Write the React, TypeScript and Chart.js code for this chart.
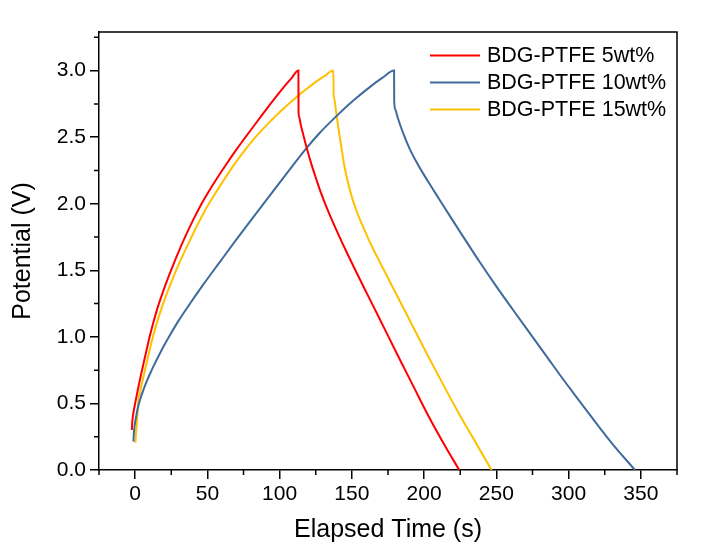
import React, { useEffect, useRef } from "react";
import { Chart, registerables } from "chart.js";

Chart.register(...registerables);

// ---------- data ----------
const seriesLabels = ["BDG-PTFE 5wt%", "BDG-PTFE 10wt%", "BDG-PTFE 15wt%"];
const seriesColors = ["#FF0000", "#3F6B9C", "#FFC000"];

const time5 = [
  -2.28, -2.05, -1.7, -1.18, 0, 1.18, 2.3, 3.46, 5.5, 8, 10.3, 12.66, 16, 19.5, 23, 26.5, 30.5, 35, 40, 44.96, 50, 56, 63,
  70.3, 76, 82, 87.5, 93.4, 98, 103, 108, 113,
  113.1, 113.6, 114.5, 116.4, 119, 122.2, 125.5, 129, 134.9, 140, 146, 152, 157.9, 169, 181, 192.5, 204, 214, 224.3,
];
const volt5 = [
  0.3, 0.35, 0.39, 0.43, 0.5, 0.565, 0.625, 0.685, 0.785, 0.905, 1.012, 1.11, 1.235, 1.345, 1.448, 1.545, 1.65, 1.76, 1.875,
  1.98, 2.075, 2.18, 2.295, 2.41, 2.495, 2.582, 2.662, 2.746, 2.81, 2.878, 2.94, 3.0,
  2.69, 2.65, 2.6, 2.517, 2.41, 2.29, 2.18, 2.07, 1.91, 1.785, 1.645, 1.51, 1.38, 1.14, 0.877, 0.63, 0.385, 0.19, 0.0,
];

const time10 = [
  -1.18, -0.9, -0.5, 0, 1.18, 2.3, 3.46, 5.5, 8, 10.4, 12.66, 16.5, 20.5, 25, 30, 35.8, 47, 58.8, 70, 81.8, 95, 107.2, 117.6,
  128, 139.5, 151, 162.6, 171, 179.2,
  179.3, 180, 181.5, 183.3, 185.5, 187.9, 191, 194.9, 200, 205, 211, 218, 226, 238.6, 250.2, 261.7, 273, 285, 296.3, 303.2,
  315, 330, 345.9,
];
const volt10 = [
  0.213, 0.27, 0.32, 0.36, 0.43, 0.485, 0.53, 0.595, 0.665, 0.725, 0.778, 0.862, 0.945, 1.03, 1.12, 1.215, 1.39, 1.565, 1.73,
  1.9, 2.088, 2.26, 2.405, 2.535, 2.66, 2.775, 2.878, 2.945, 3.0,
  2.775, 2.71, 2.655, 2.595, 2.53, 2.465, 2.39, 2.31, 2.215, 2.128, 2.025, 1.905, 1.77, 1.56, 1.375, 1.2, 1.03, 0.85, 0.68,
  0.58, 0.41, 0.2, 0.0,
];

const time15 = [
  0.2, 0.5, 0.85, 1.18, 1.7, 2.28, 3.4, 5.0, 7.2, 9.8, 12.2, 14.6, 18.0, 21.6, 25.2, 28.8, 32.9, 37.5, 42.8, 48.4, 53.8, 60,
  67.8, 76.1, 83, 89.5, 93.4, 97.5, 102, 107, 112.95, 119, 126, 131.5, 137.2,
  137.4, 137.7, 139.1, 140.7, 142.6, 144.7, 147.4, 150.2, 153.0, 155.7, 159.9, 164.7, 169.6, 178.8, 190, 201.8, 213, 224.8,
  236, 246.7,
];
const volt15 = [
  0.205, 0.27, 0.31, 0.35, 0.44, 0.526, 0.585, 0.665, 0.77, 0.89, 0.995, 1.09, 1.205, 1.315, 1.415, 1.51, 1.61, 1.715, 1.835,
  1.95, 2.048, 2.155, 2.283, 2.404, 2.496, 2.574, 2.617, 2.662, 2.708, 2.757, 2.812, 2.865, 2.923, 2.963, 3.0,
  2.81, 2.795, 2.69, 2.567, 2.434, 2.291, 2.156, 2.044, 1.953, 1.878, 1.773, 1.66, 1.556, 1.362, 1.125, 0.875, 0.645, 0.41,
  0.2, 0.0,
];

const xTicks = [0, 50, 100, 150, 200, 250, 300, 350];
const xMinor = [-25, 25, 75, 125, 175, 225, 275, 325, 375];
const yTicks = [0, 0.5, 1.0, 1.5, 2.0, 2.5, 3.0];
const yMinor = [0.25, 0.75, 1.25, 1.75, 2.25, 2.75, 3.25];

const xTitle = "Elapsed Time (s)";
const yTitle = "Potential (V)";

const FONT = "'Liberation Sans', Arial, Helvetica, sans-serif";

const toPoints = (xs: number[], ys: number[]) => xs.map((x, i) => ({ x, y: ys[i] }));

const framePlugin = {
  id: "frameAndLegend",
  afterDraw(chart: any) {
    const { ctx, chartArea: a, scales } = chart;
    ctx.save();
    ctx.strokeStyle = "#000";
    ctx.lineWidth = 1.5;
    // top + right frame
    ctx.beginPath();
    ctx.moveTo(a.left, a.top);
    ctx.lineTo(a.right, a.top);
    ctx.lineTo(a.right, a.bottom);
    ctx.stroke();
    // minor ticks
    ctx.beginPath();
    xMinor.forEach((v) => {
      const px = scales.x.getPixelForValue(v);
      ctx.moveTo(px, a.bottom);
      ctx.lineTo(px, a.bottom + 5);
    });
    yMinor.forEach((v) => {
      const py = scales.y.getPixelForValue(v);
      ctx.moveTo(a.left, py);
      ctx.lineTo(a.left - 5, py);
    });
    ctx.stroke();
    // legend
    const lx = 430;
    const ly = 55.5;
    const step = 27;
    ctx.font = `21.5px ${FONT}`;
    ctx.textBaseline = "middle";
    ctx.textAlign = "left";
    chart.data.datasets.forEach((ds: any, i: number) => {
      const y = ly + step * i;
      ctx.strokeStyle = ds.borderColor;
      ctx.lineWidth = 2;
      ctx.beginPath();
      ctx.moveTo(lx, y);
      ctx.lineTo(lx + 50, y);
      ctx.stroke();
      ctx.fillStyle = "#000";
      ctx.fillText(ds.label, lx + 57, y + 1);
    });
    ctx.restore();
  },
};

export default function App() {
  const ref = useRef<HTMLCanvasElement | null>(null);

  useEffect(() => {
    if (!ref.current) return;
    const chart = new Chart(ref.current, {
      type: "scatter",
      data: {
        datasets: [
          { label: seriesLabels[0], data: toPoints(time5, volt5), borderColor: seriesColors[0] },
          { label: seriesLabels[1], data: toPoints(time10, volt10), borderColor: seriesColors[1] },
          { label: seriesLabels[2], data: toPoints(time15, volt15), borderColor: seriesColors[2] },
        ].map((d) => ({
          ...d,
          backgroundColor: d.borderColor,
          showLine: true,
          pointRadius: 0,
          borderWidth: 2,
          cubicInterpolationMode: "monotone",
        })),
      },
      options: {
        responsive: false,
        animation: false,
        devicePixelRatio: 1,
        layout: { padding: { top: 32, right: 31, left: 0, bottom: 0 } },
        plugins: { legend: { display: false }, tooltip: { enabled: false } },
        scales: {
          x: {
            type: "linear",
            min: -25,
            max: 375,
            afterBuildTicks: (s: any) => {
              s.ticks = xTicks.map((v) => ({ value: v }));
            },
            afterFit: (s: any) => {
              s.height = 87;
            },
            grid: { display: true, drawOnChartArea: false, drawTicks: true, tickLength: 9, color: "#000", lineWidth: 1.5 },
            border: { display: true, color: "#000", width: 1.5 },
            ticks: { color: "#000", font: { family: FONT, size: 21 }, padding: 3, maxRotation: 0, autoSkip: false },
            title: { display: true, text: xTitle, color: "#000", font: { family: FONT, size: 25 }, padding: { top: 0, bottom: 12 } },
          },
          y: {
            type: "linear",
            min: 0,
            max: 3.29,
            afterBuildTicks: (s: any) => {
              s.ticks = yTicks.map((v) => ({ value: v }));
            },
            afterFit: (s: any) => {
              s.width = 99;
            },
            grid: { display: true, drawOnChartArea: false, drawTicks: true, tickLength: 9, color: "#000", lineWidth: 1.5 },
            border: { display: true, color: "#000", width: 1.5 },
            ticks: {
              color: "#000",
              font: { family: FONT, size: 21 },
              padding: 4,
              autoSkip: false,
              callback: (v: any) => Number(v).toFixed(1),
            },
            title: { display: true, text: yTitle, color: "#000", font: { family: FONT, size: 25 }, padding: { top: 8, bottom: 0 } },
          },
        },
      },
      plugins: [framePlugin],
    } as any);
    return () => chart.destroy();
  }, []);

  return (
    <div style={{ position: "absolute", left: 0, top: 0, width: 708, height: 557, background: "#fff" }}>
      <canvas ref={ref} width={708} height={557} style={{ display: "block" }} />
    </div>
  );
}
